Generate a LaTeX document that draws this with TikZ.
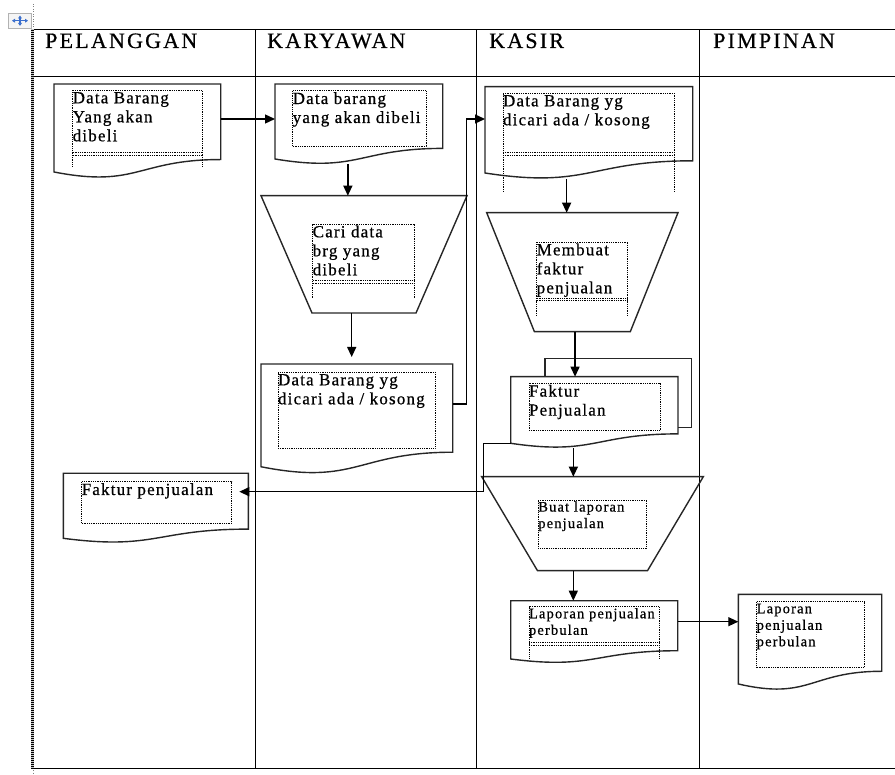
\documentclass[tikz,border=0pt]{standalone}
\usepackage{fontspec}
\setmainfont{Liberation Serif}
\newfontfamily\bodyfam[LetterSpace=7,FakeBold=0.6]{Liberation Serif}
\newfontfamily\smallfam[LetterSpace=8,FakeBold=0.6]{Liberation Serif}
\newfontfamily\headfam[LetterSpace=10,FakeBold=0.6]{Liberation Serif}
\newcommand\bodytext{\bodyfam\fontsize{17pt}{19pt}\selectfont}
\newcommand\smalltext{\smallfam\fontsize{14.5pt}{16.5pt}\selectfont}
\newcommand\headtext{\headfam\fontsize{22pt}{24pt}\selectfont}
\usetikzlibrary{arrows.meta,calc}
\definecolor{iconblue}{RGB}{58,110,205}

\tikzset{
  lane/.style={line width=1.5pt, draw=black},
  shapeline/.style={line width=1.4pt, draw=black!85},
  frame/.style={draw=none, inner sep=0pt, outer sep=0pt, anchor=north west},
  dotline/.style={draw=black, line width=0.8pt, dash pattern=on 0.9pt off 0.9pt},
  tbox/.style={dotline, inner sep=0pt, outer sep=0pt, anchor=north west},
  txt/.style={inner sep=0pt, outer sep=0pt, anchor=north west, align=left, font=\bodytext},
  smalltxt/.style={txt, font=\smalltext},
  hdr/.style={inner sep=0pt, anchor=base west, font=\headtext},
  flow/.style={line width=1.3pt, draw=black, -{Triangle[length=10pt,width=9pt]}},
  movearrow/.style={line width=1.2pt, draw=iconblue, -{Triangle[length=3pt,width=3.8pt]}},
}

% document symbol with a wavy lower edge, drawn around a frame node
\newcommand\docoutline[1]{%
  \draw[shapeline] (#1.north west) -- (#1.north east)
    -- ($(#1.north east)!0.802!(#1.south east)$)
    .. controls ($(#1.north)!0.802!(#1.south)$) and ($(#1.north)!1.107!(#1.south)$)
    .. ($(#1.north west)!0.934!(#1.south west)$) -- cycle;}
% manual operation symbol (wide top, narrow bottom)
\newcommand\trapoutline[2]{%
  \draw[shapeline] (#1.north west) -- (#1.north east)
    -- ([xshift=-#2pt]#1.south east) -- ([xshift=#2pt]#1.south west) -- cycle;}
% lower continuation of a dotted text frame
\newcommand\boxtail[2]{%
  \draw[dotline] (#1.south west) -- ++(0,#2);
  \draw[dotline] (#1.south east) -- ++(0,#2);
  \draw[dotline] ([yshift=2.3pt]#1.south west) -- ([yshift=2.3pt]#1.south east);}

\begin{document}
\begin{tikzpicture}[x=1pt,y=-1pt]
\useasboundingbox (0,0) rectangle (895,775);

% ---- table move handle
\node[draw=gray!60, fill=gray!8, line width=1pt, minimum width=22.4pt,
      minimum height=15pt, inner sep=0pt, anchor=north west] (mv) at (8.3,12.7) {};
\draw[movearrow] (mv.center) -- ++(8,0);
\draw[movearrow] (mv.center) -- ++(-8,0);
\draw[movearrow] (mv.center) -- ++(0,5.2);
\draw[movearrow] (mv.center) -- ++(0,-5.2);

% ---- swimlane table
\draw[gray, line width=0.8pt, dash pattern=on 1pt off 1.5pt] (33.5,4) -- (33.5,28);
\draw[gray, line width=0.8pt, dash pattern=on 1pt off 1.5pt] (33.5,770) -- (33.5,775);
\draw[lane] (32,29.5) -- (895,29.5);
\draw[lane] (32,76.5) -- (895,76.5);
\draw[lane] (32,768.5) -- (895,768.5);
\foreach \lx in {255.5,476.5,699.5} \draw[lane] (\lx,29.5) -- (\lx,768.5);
\draw[line width=2.6pt, black] (32.3,28.8) -- (32.3,769.2);
\draw[line width=2.6pt, gray!45, dash pattern=on 0.5pt off 1.5pt] (32.3,29) -- (32.3,769);

\node[hdr] (h1) at (45,48) {PELANGGAN};
\node[hdr] (h2) at (267,48) {KARYAWAN};
\node[hdr] (h3) at (489,48) {KASIR};
\node[hdr] (h4) at (713,48) {PIMPINAN};

% ---- symbol frames
\node[frame, minimum width=166.7pt, minimum height=94.2pt] (d1) at (54,84) {};
\node[frame, minimum width=167.7pt, minimum height=80.3pt] (d2) at (275,84) {};
\node[frame, minimum width=191.7pt, minimum height=110pt] (d3) at (261,364) {};
\node[frame, minimum width=207.7pt, minimum height=92.4pt] (d4) at (485,86.7) {};
\node[frame, minimum width=167.3pt, minimum height=71.3pt] (fk) at (510.7,376.7) {};
\node[frame, minimum width=167pt, minimum height=62.4pt] (d6) at (510.7,600.7) {};
\node[frame, minimum width=143.4pt, minimum height=96pt] (d7) at (738.3,594.3) {};
\node[frame, minimum width=185pt, minimum height=69.6pt] (d8) at (63.3,473.3) {};
\node[frame, minimum width=206pt, minimum height=117.3pt] (t1) at (261,195.7) {};
\node[frame, minimum width=191.3pt, minimum height=119pt] (t2) at (486.7,212.7) {};
\node[frame, minimum width=221.6pt, minimum height=94pt] (t3) at (481.7,476.7) {};

\docoutline{d1}
\docoutline{d2}
\docoutline{d3}
\docoutline{d4}
\docoutline{fk}
\docoutline{d6}
\docoutline{d7}
\docoutline{d8}
\trapoutline{t1}{51}
\trapoutline{t2}{47.7}
\trapoutline{t3}{55.8}
% second sheet behind the invoice
\draw[shapeline] ([xshift=34.3pt]fk.north west) -- ++(0,-18.4) -- ++(146.7,0)
  -- ++(0,69) -- ++(-13.7,0);

% ---- dotted text frames and their texts
\node[tbox, minimum width=129.3pt, minimum height=65pt] (b1) at (72.7,90) {};
\boxtail{b1}{11}
\node[txt] (l1) at (b1.north west) {\strut Data Barang\\Yang akan\\dibeli};

\node[tbox, minimum width=133.3pt, minimum height=55.3pt] (b2) at (292.7,90.7) {};
\node[txt] (l2) at (b2.north west) {\strut Data barang\\yang akan dibeli};

\node[tbox, minimum width=101.3pt, minimum height=59pt] (b3) at (312.7,224) {};
\boxtail{b3}{15}
\node[txt] (l3) at (b3.north west) {\strut Cari data\\brg yang\\dibeli};

\node[tbox, minimum width=157pt, minimum height=76pt] (b4) at (278,372) {};
\node[txt] (l4) at (b4.north west) {\strut Data Barang yg\\dicari ada / kosong};

\node[tbox, minimum width=171pt, minimum height=62pt] (b5) at (503,93) {};
\boxtail{b5}{37}
\node[txt] (l5) at (b5.north west) {\strut Data Barang yg\\dicari ada / kosong};

\node[tbox, minimum width=91pt, minimum height=58.7pt] (b6) at (536.7,242) {};
\boxtail{b6}{16}
\node[txt] (l6) at (b6.north west) {\strut Membuat\\faktur\\penjualan};

\node[tbox, minimum width=131pt, minimum height=47.4pt] (b7) at (529,383.3) {};
\node[txt] (l7) at (b7.north west) {\strut Faktur\\Penjualan};

\node[tbox, minimum width=108.4pt, minimum height=48.3pt] (b8) at (538.3,500) {};
\node[smalltxt] (l8) at (b8.north west) {\strut Buat laporan\\penjualan};

\node[tbox, minimum width=130.3pt, minimum height=38.3pt] (b9) at (529,606.7) {};
\boxtail{b9}{12.7}
\node[smalltxt] (l9) at (b9.north west) {\strut Laporan penjualan\\perbulan};

\node[tbox, minimum width=107.3pt, minimum height=66pt] (b10) at (756.7,601.7) {};
\node[smalltxt] (l10) at (b10.north west) {\strut Laporan\\penjualan\\perbulan};

\node[tbox, minimum width=150pt, minimum height=41.6pt] (b11) at (81.7,481.7) {};
\node[txt] (l11) at (b11.north west) {\strut Faktur penjualan};

% ---- flow connectors
\draw[flow] ([yshift=-35pt]d1.north east) -- ([yshift=-35pt]d2.north west);
\draw[flow] ([xshift=-11pt]d2.south) -- ([xshift=-11pt]d2.south |- t1.north);
\draw[flow, shorten >=7pt] ([xshift=-12.3pt]t1.south) -- ([xshift=-12.3pt]t1.south |- d3.north);
\draw[flow] ([yshift=15pt]d3.east) -- ++(14,0) |- ([yshift=13.9pt]d4.west);
\draw[flow] ([xshift=-22.2pt]d4.south) -- ([xshift=-22.2pt]d4.south |- t2.north);
\draw[flow] ([xshift=-7.3pt]t2.south) -- ([xshift=-7.3pt]t2.south |- fk.north);
\draw[flow, shorten >=-9pt] ([yshift=4.7pt]fk.south west) -- ++(-27.4,0) |- ([yshift=16.4pt]d8.east);
\draw[flow] ([xshift=-21pt]fk.south) -- ([xshift=-21pt]fk.south |- t3.north);
\draw[flow] ([xshift=-19.2pt]t3.south) -- ([xshift=-19.2pt]t3.south |- d6.north);
\draw[flow] ([yshift=10.2pt]d6.east) -- ([yshift=10.2pt]d6.east -| d7.west);
\end{tikzpicture}
\end{document}
